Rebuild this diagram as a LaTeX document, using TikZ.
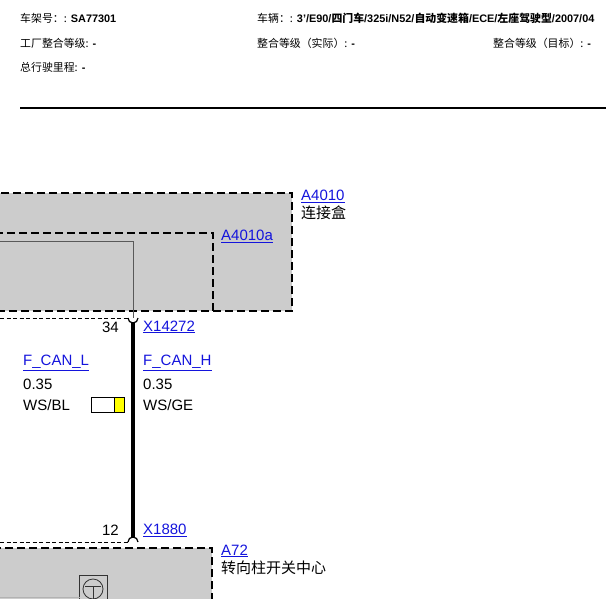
\documentclass[tikz,border=0pt]{standalone}
\usepackage{fontspec}
\setmainfont{Liberation Sans}
\newfontfamily\cjk{Noto Sans CJK SC}
\usetikzlibrary{positioning}
\definecolor{boxgray}{RGB}{204,204,204}
\definecolor{linkblue}{RGB}{20,20,220}
\definecolor{pinyellow}{RGB}{255,255,0}
\tikzset{
  head/.style={anchor=west, inner sep=0pt, font=\fontsize{10.9}{13}\selectfont},
  lbl/.style={anchor=west, inner sep=0pt, font=\fontsize{15}{18}\selectfont},
  link/.style={lbl, text=linkblue},
  comp/.style={draw, fill=boxgray, line width=2.5pt, dash pattern=on 8pt off 4pt},
  plug/.style={draw, line width=1pt, dash pattern=on 4pt off 2.5pt},
}
\newcommand{\ul}[1]{\underline{#1}}
\begin{document}
\begin{tikzpicture}[x=1pt, y=-1pt]
  \useasboundingbox (0,0) rectangle (606,598);
  % header
  \node[head] (vin) at (20,18) {{\cjk 车架号：:} \textbf{SA77301}};
  \node[head] (car) at (257,18) {{\cjk 车辆：:} \textbf{3'/E90/{\cjk 四门车}/325i/N52/{\cjk 自动变速箱}/ECE/{\cjk 左座驾驶型}/2007/04}};
  \node[head] (ilf) at (20,43) {{\cjk 工厂整合等级:} \textbf{-}};
  \node[head] (ila) at (257,43) {{\cjk 整合等级（实际）:} \textbf{-}};
  \node[head] (ilt) at (493,43) {{\cjk 整合等级（目标）:} \textbf{-}};
  \node[head] (km) at (20,67) {{\cjk 总行驶里程:} \textbf{-}};
  \draw[line width=2pt] (20,108) -- (606,108);
  % control units
  \draw[comp] (-5,193) rectangle (292,311);
  \draw[line width=2.5pt, dash pattern=on 8pt off 4pt] (-5,233) -- (213,233) -- (213,311);
  \node[link] (a4010) at (301,196) {\ul{A4010}};
  \node[lbl, below=3pt of a4010.south west, anchor=north west] (a4010t) {\cjk 连接盒};
  \node[link] (a4010a) at (221,236) {\ul{A4010a}};
  \draw[comp] (-5,548) rectangle (212,610);
  \node[link] (a72) at (221,551) {\ul{A72}};
  \node[lbl, below=3pt of a72.south west, anchor=north west] (a72t) {\cjk 转向柱开关中心};
  % internal line
  \coordinate (in0) at (0,241);
  \coordinate (pin1) at (133,318);
  \draw[gray!70!black, line width=0.8pt] (in0) -- (133,241) -- (pin1);
  % plugs
  \draw[plug] (0,318) -- (128,318);
  \draw[plug] (0,542) -- (128,542);
  \coordinate (pin2) at (133,542);
  \draw[line width=1.2pt] (128,318) arc[start angle=180, end angle=360, radius=5pt];
  \draw[line width=1.2pt] (128,542) arc[start angle=180, end angle=0, radius=5pt];
  % wire
  \draw[line width=4.5pt] (133,322) -- (133,537);
  \node[lbl, anchor=east] (p34) at (119,327) {34};
  \node[link] (x14272) at (143,327) {\ul{X14272}};
  \node[lbl, anchor=east] (p12) at (119,530) {12};
  \node[link] (x1880) at (143,530) {\ul{X1880}};
  \node[link] (canl) at (23,363) {\ul{F\_CAN\_L}};
  \node[lbl] (canlq) at (23,384) {0.35};
  \node[lbl] (canlc) at (23,405) {WS/BL};
  \node[link] (canh) at (143,363) {\ul{F\_CAN\_H}};
  \node[lbl] (canhq) at (143,384) {0.35};
  \node[lbl] (canhc) at (143,405) {WS/GE};
  \draw[line width=0.8pt, fill=white] (91,397) rectangle (114,412);
  \draw[line width=0.8pt, fill=pinyellow] (114,397) rectangle (124,412);
  % switch symbol
  \draw[gray!40!black, line width=0.8pt] (79,575) rectangle (107,600);
  \draw[gray!40!black, line width=0.8pt] (93,589) circle (10pt);
  \draw[gray!40!black, line width=0.8pt] (85,586) -- (101,586) (93,586) -- (93,600);
  \draw[gray!60, line width=0.8pt] (0,597) -- (80,597);
\end{tikzpicture}
\end{document}
